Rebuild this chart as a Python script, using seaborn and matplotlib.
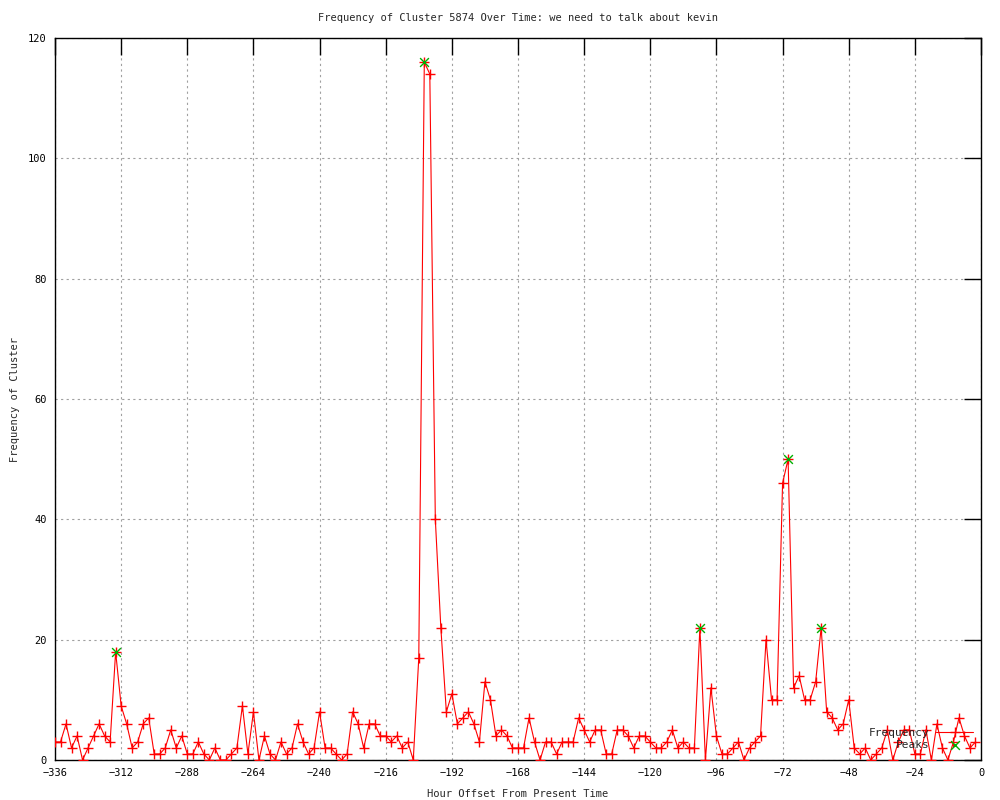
import numpy as np
import pandas as pd
import matplotlib
matplotlib.use("Agg")
import matplotlib.pyplot as plt
import seaborn as sns

# hour offsets, one sample every 2 hours
hours = np.arange(-336, 0, 2)
freq = [3, 3, 6, 2, 4, 0, 2, 4, 6, 4, 3, 18, 9, 6, 2, 3, 6, 7, 1, 1,
        2, 5, 2, 4, 1, 1, 3, 1, 0, 2, 0, 0, 1, 2, 9, 1, 8, 0, 4, 1,
        0, 3, 1, 2, 6, 3, 1, 2, 8, 2, 2, 1, 0, 1, 8, 6, 2, 6, 6, 4,
        4, 3, 4, 2, 3, 0, 17, 116, 114, 40, 22, 8, 11, 6, 7, 8, 6, 3, 13, 10,
        4, 5, 4, 2, 2, 2, 7, 3, 0, 3, 3, 1, 3, 3, 3, 7, 5, 3, 5, 5,
        1, 1, 5, 5, 4, 2, 4, 4, 3, 2, 2, 3, 5, 2, 3, 2, 2, 22, 0, 12,
        4, 1, 1, 2, 3, 0, 2, 3, 4, 20, 10, 10, 46, 50, 12, 14, 10, 10, 13, 22,
        8, 7, 5, 6, 10, 2, 1, 2, 0, 1, 2, 5, 0, 3, 5, 5, 1, 1, 5, 0,
        6, 2, 0, 3, 7, 4, 2, 3]
peak_hours = [-314, -202, -102, -70, -58]
peak_values = [18, 116, 22, 50, 22]

title = "Frequency of Cluster 5874 Over Time: we need to talk about kevin"
x_ticks = list(range(-336, 1, 24))
y_ticks = list(range(0, 121, 20))

df = pd.DataFrame({"hour": hours, "freq": freq})
peaks = pd.DataFrame({"hour": peak_hours, "freq": peak_values})

sns.set_style("white")
plt.rcParams['font.family'] = ['DejaVu Sans Mono']
fs = 7.5

fig = plt.figure(figsize=(10, 8), dpi=100)
ax = fig.add_axes([0.055, 0.05, 0.926, 0.9025])

sns.lineplot(data=df, x="hour", y="freq", ax=ax, color="#ff0000",
             linewidth=0.8, marker="+", markersize=7, markeredgewidth=1.0,
             markeredgecolor="#ff0000", label="Frequency", zorder=3)
sns.scatterplot(data=peaks, x="hour", y="freq", ax=ax, color="#00b000",
                marker="x", s=40, linewidth=1.0, label="Peaks", zorder=4)

ax.set_xlim(-336, 0)
ax.set_ylim(0, 120)
ax.set_xticks(x_ticks)
ax.set_yticks(y_ticks)
ax.grid(True, color="#a0a0a0", linestyle=(0, (2, 3)), linewidth=0.8)
ax.tick_params(direction="in", length=12, width=1, top=True, right=True,
               labelsize=fs, colors="black", pad=6)
for s in ax.spines.values():
    s.set_color("black")
    s.set_linewidth(1)

ax.set_title(title, fontsize=fs, pad=12)
ax.set_xlabel("Hour Offset From Present Time", fontsize=fs, labelpad=8)
ax.set_ylabel("Frequency of Cluster", fontsize=fs, labelpad=6)

leg = ax.legend(loc="lower right", bbox_to_anchor=(1.002, 0.0), frameon=False,
                markerfirst=False, fontsize=fs + 0.5, handlelength=3.3,
                handletextpad=0.6, labelspacing=0.15, borderpad=0.4)

fig.savefig("out.png", dpi=100)
